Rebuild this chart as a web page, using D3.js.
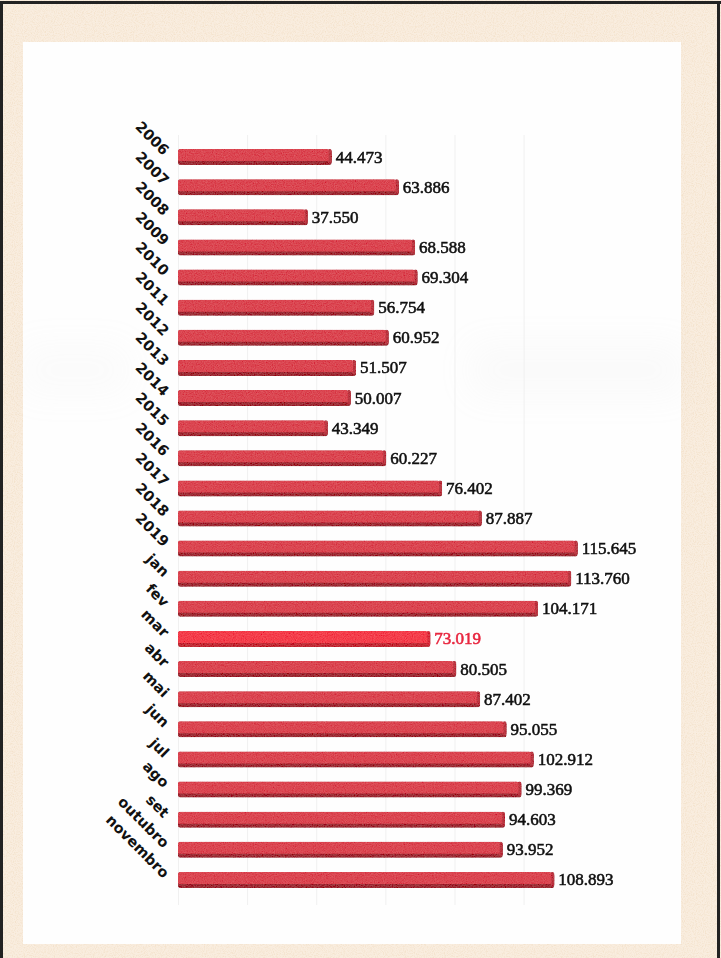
<!DOCTYPE html>
<html>
<head>
<meta charset="utf-8">
<script src="https://cdn.jsdelivr.net/npm/d3@7"></script>
<style>
  html, body { margin: 0; padding: 0; background: #f6e8d6; }
  svg { display: block; }
</style>
</head>
<body>
<script>
// Categories (years, then months of the latest year) and their values (thousands)
const categories = ["2006","2007","2008","2009","2010","2011","2012","2013","2014","2015",
  "2016","2017","2018","2019","jan","fev","mar","abr","mai","jun","jul","ago","set","outubro","novembro"];
const values = [44.473, 63.886, 37.550, 68.588, 69.304, 56.754, 60.952, 51.507, 50.007, 43.349,
  60.227, 76.402, 87.887, 115.645, 113.760, 104.171, 73.019, 80.505, 87.402, 95.055,
  102.912, 99.369, 94.603, 93.952, 108.893];
const valueLabels = ["44.473","63.886","37.550","68.588","69.304","56.754","60.952","51.507","50.007","43.349",
  "60.227","76.402","87.887","115.645","113.760","104.171","73.019","80.505","87.402","95.055",
  "102.912","99.369","94.603","93.952","108.893"];
const highlighted = ["mar"];
const gridTicks = [0, 20, 40, 60, 80, 100];

const W = 721, H = 958;
const svg = d3.select("body").append("svg").attr("width", W).attr("height", H);
const defs = svg.append("defs");

// paper grain for the beige frame
const paper = defs.append("filter").attr("id", "paper").attr("x", 0).attr("y", 0).attr("width", 1).attr("height", 1);
paper.append("feTurbulence").attr("type", "fractalNoise").attr("baseFrequency", 0.9).attr("numOctaves", 2).attr("seed", 3).attr("result", "n");
paper.append("feColorMatrix").attr("in", "n").attr("type", "matrix")
  .attr("values", "0 0 0 0 0.90  0 0 0 0 0.76  0 0 0 0 0.60  2.4 0 0 0 -1.0");

// grain on the bars
const grain = defs.append("filter").attr("id", "grain").attr("x", 0).attr("y", 0).attr("width", 1).attr("height", 1);
grain.append("feTurbulence").attr("type", "fractalNoise").attr("baseFrequency", 0.9).attr("numOctaves", 2).attr("seed", 7).attr("result", "n");
grain.append("feColorMatrix").attr("in", "n").attr("type", "matrix")
  .attr("values", "0.33 0.33 0.33 0 0  0.33 0.33 0.33 0 0  0.33 0.33 0.33 0 0  0 0 0 0 1").attr("result", "g");
grain.append("feComposite").attr("in", "SourceGraphic").attr("in2", "g").attr("operator", "arithmetic")
  .attr("k1", 0).attr("k2", 1).attr("k3", 0.22).attr("k4", -0.11).attr("result", "mix");
grain.append("feComposite").attr("in", "mix").attr("in2", "SourceGraphic").attr("operator", "in");

const haze = defs.append("filter").attr("id", "haze").attr("x", -0.3).attr("y", -1).attr("width", 1.6).attr("height", 3);
haze.append("feGaussianBlur").attr("stdDeviation", 18);

// frame
svg.append("rect").attr("x", 0).attr("y", 0).attr("width", W).attr("height", H).attr("fill", "#f9eddf");
svg.append("rect").attr("x", 0).attr("y", 0).attr("width", W).attr("height", H).attr("filter", "url(#paper)");
svg.append("rect").attr("x", 0).attr("y", 1).attr("width", W).attr("height", 3).attr("fill", "#222");
svg.append("rect").attr("x", 0).attr("y", 1).attr("width", 3).attr("height", H).attr("fill", "#222");
svg.append("rect").attr("x", W - 4).attr("y", 1).attr("width", 3).attr("height", H).attr("fill", "#222");

// white panel
svg.append("rect").attr("x", 23).attr("y", 42).attr("width", 658).attr("height", 902).attr("fill", "#fefefe");
svg.append("rect").attr("x", 470).attr("y", 345).attr("width", 215).attr("height", 50)
  .attr("fill", "#c8c8c8").attr("opacity", 0.08).attr("filter", "url(#haze)");
svg.append("rect").attr("x", 20).attr("y", 345).attr("width", 110).attr("height", 50)
  .attr("fill", "#c8c8c8").attr("opacity", 0.06).attr("filter", "url(#haze)");

// scales
const x = d3.scaleLinear().domain([0, 120]).range([178, 178 + 120 * 3.456]);
const y = d3.scaleBand().domain(categories).range([142, 895]).paddingInner(0).paddingOuter(0);
const barH = 16;

// faint vertical gridlines
svg.append("g").selectAll("line").data(gridTicks).join("line")
  .attr("x1", d => x(d) + 0.5).attr("x2", d => x(d) + 0.5)
  .attr("y1", 135).attr("y2", 905)
  .attr("stroke", "#f0f0f0").attr("stroke-width", 1);

const rows = categories.map((c, i) => ({ c, v: values[i], label: valueLabels[i], hi: highlighted.includes(c) }));

const bars = svg.append("g").attr("filter", "url(#grain)");
const g = bars.selectAll("g").data(rows).join("g")
  .attr("transform", d => `translate(0,${y(d.c) + y.bandwidth() / 2 - barH / 2})`);

// extruded underside
g.append("rect")
  .attr("x", x(0)).attr("y", 1)
  .attr("width", d => x(d.v) - x(0)).attr("height", barH - 1)
  .attr("rx", 2)
  .attr("fill", d => d.hi ? "#c22f38" : "#9e2f37");
// end cap
g.append("rect")
  .attr("x", d => x(d.v) - 4).attr("y", 0)
  .attr("width", 4).attr("height", barH - 2)
  .attr("rx", 1.5)
  .attr("fill", d => d.hi ? "#d8323f" : "#bb3943");
// front face
g.append("rect")
  .attr("x", x(0)).attr("y", 0)
  .attr("width", d => x(d.v) - x(0) - 3).attr("height", barH - 4)
  .attr("rx", 1.5)
  .attr("fill", d => d.hi ? "#f43f4c" : "#db4752");

// value labels
svg.append("g").selectAll("text").data(rows).join("text")
  .attr("x", d => x(d.v) + 4)
  .attr("y", d => y(d.c) + y.bandwidth() / 2 + 5.5)
  .attr("font-family", "'Liberation Serif', 'Times New Roman', serif")
  .attr("font-size", 17)
  .attr("fill", d => d.hi ? "#e8263f" : "#111")
  .attr("stroke", d => d.hi ? "#e8263f" : "#111").attr("stroke-width", 0.55)
  .text(d => d.label);

// rotated category labels
svg.append("g").selectAll("text").data(rows).join("text")
  .attr("transform", d => `translate(163,${y(d.c) + y.bandwidth() / 2 - 1}) rotate(45)`)
  .attr("text-anchor", "end")
  .attr("font-family", "'DejaVu Sans', Verdana, sans-serif")
  .attr("font-weight", "bold")
  .attr("font-size", 14.5)
  .attr("fill", "#111")
  .text(d => d.c);
</script>
</body>
</html>
